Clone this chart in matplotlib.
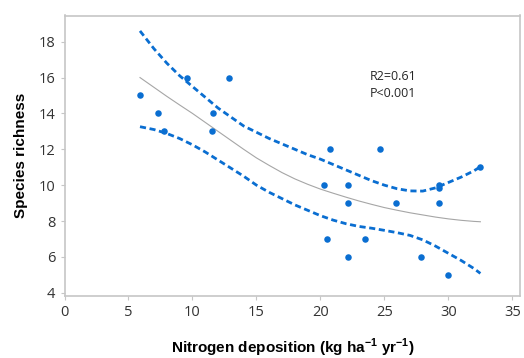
import matplotlib
matplotlib.use("Agg")
import matplotlib.pyplot as plt

# observed points
nitrogen = [5.9, 7.3, 7.8, 9.6, 11.5, 11.6, 12.85, 20.3, 20.5, 20.75, 22.15, 22.15, 22.15,
            23.45, 24.65, 25.9, 27.85, 29.25, 29.25, 29.25, 30.0, 32.5]
richness = [15, 14, 13, 16, 13, 14, 16, 10, 7, 12, 10, 9, 6,
            7, 12, 9, 6, 10, 9.85, 9, 5, 11]

# fitted curve and confidence band
fit_x = [5.9, 7, 8, 9, 10, 11, 12, 13, 14, 15, 16, 17, 18, 19, 20, 21, 22, 23, 24,
         25, 26, 27, 28, 29, 30, 31, 32, 32.5]
fit_y = [16.0, 15.45, 14.95, 14.47, 14.0, 13.5, 13.0, 12.5, 12.0, 11.52, 11.1, 10.7,
         10.35, 10.05, 9.78, 9.55, 9.33, 9.12, 8.93, 8.75, 8.6, 8.46, 8.34, 8.22, 8.12,
         8.04, 7.98, 7.96]

upper_x = fit_x
upper_y = [18.6, 17.6, 16.8, 16.1, 15.5, 14.9, 14.3, 13.8, 13.3, 12.95, 12.6, 12.3,
           12.0, 11.7, 11.45, 11.15, 10.85, 10.55, 10.25, 10.0, 9.8, 9.68, 9.67, 9.85,
           10.15, 10.45, 10.8, 11.03]

lower_x = fit_x
lower_y = [13.26, 13.1, 12.88, 12.6, 12.25, 11.85, 11.4, 10.95, 10.5, 10.0, 9.6, 9.25,
           8.9, 8.6, 8.3, 8.05, 7.85, 7.7, 7.6, 7.48, 7.35, 7.2, 6.95, 6.6, 6.2, 5.8,
           5.35, 5.08]

xticks = [0, 5, 10, 15, 20, 25, 30, 35]
yticks = [4, 6, 8, 10, 12, 14, 16, 18]

blue = "#0a6ed1"
edge = "#c6c6c6"

fig = plt.figure(figsize=(5.24, 3.58), dpi=100)
ax = fig.add_axes([64.5 / 524, 1 - 296 / 358, (520.3 - 64.5) / 524, (296 - 15.5) / 358])

ax.plot(fit_x, fit_y, color="#a6a6a6", lw=0.8)
ax.plot(upper_x, upper_y, color=blue, lw=2.0, dashes=(2.2, 1.3))
ax.plot(lower_x, lower_y, color=blue, lw=2.0, dashes=(2.2, 1.3))
ax.scatter(nitrogen, richness, s=22, color=blue, zorder=3, linewidths=0)

ax.text(23.85, 16.05, "R2=0.61", fontsize=9, family="Open Sans", color="#262626", va="center")
ax.text(23.85, 15.1, "P<0.001", fontsize=9, family="Open Sans", color="#262626", va="center")

ax.set_xlim(0, 35.62)
ax.set_ylim(3.82, 19.46)
ax.set_xticks(xticks)
ax.set_yticks(yticks)
ax.tick_params(colors=edge, labelcolor="#333333", labelsize=10.5, length=3, width=0.8)
for lab in ax.get_xticklabels() + ax.get_yticklabels():
    lab.set_family("Open Sans")
for s in ax.spines.values():
    s.set_color(edge)
    s.set_linewidth(1.2)

ax.set_xlabel("Nitrogen deposition (kg ha$^{\\mathregular{-1}}$ yr$^{\\mathregular{-1}}$)",
              fontsize=11, fontweight="bold", family="Liberation Sans", labelpad=12)
ax.set_ylabel("Species richness", fontsize=11, fontweight="bold", family="Liberation Sans", labelpad=8)

fig.savefig("out.png", dpi=100)
